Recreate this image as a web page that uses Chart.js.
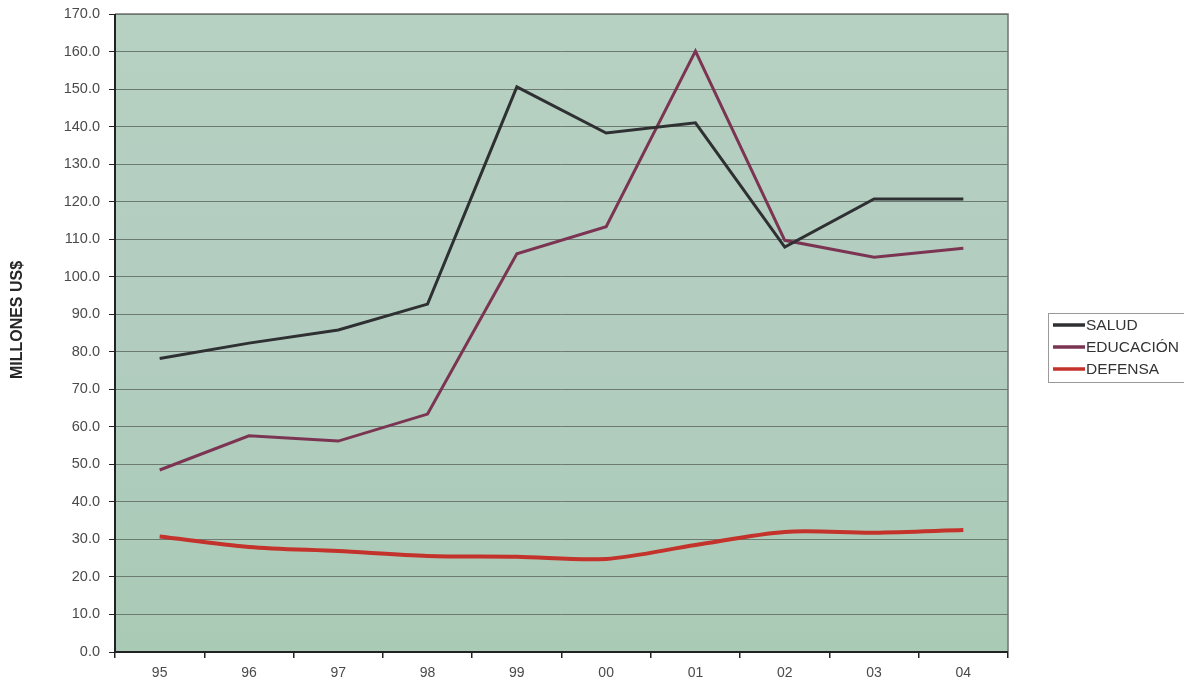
<!DOCTYPE html>
<html>
<head>
<meta charset="utf-8">
<script src="https://cdn.jsdelivr.net/npm/chart.js@4/dist/chart.umd.min.js"></script>
<style>
  html, body { margin: 0; padding: 0; background: #ffffff; }
  #wrap { width: 1184px; height: 683px; position: relative; }
</style>
</head>
<body>
<div id="wrap"><canvas id="c" width="1184" height="683"></canvas></div>
<script>
const categories = ['95', '96', '97', '98', '99', '00', '01', '02', '03', '04'];
const salud      = [78.2, 82.3, 85.8, 92.7, 150.6, 138.3, 141.0, 107.9, 120.7, 120.7];
const educacion  = [48.5, 57.6, 56.2, 63.4, 106.1, 113.3, 160.1, 109.7, 105.2, 107.6];
const defensa    = [30.8, 28.0, 26.9, 25.6, 25.4, 24.8, 28.5, 32.0, 31.8, 32.5];
const seriesLabels = ['SALUD', 'EDUCACIÓN', 'DEFENSA'];
const seriesColors = ['#2e3032', '#7b3552', '#c3322b'];
const yTitle = 'MILLONES US$';
const FONT = '"Liberation Sans", Arial, sans-serif';

const plotBg = {
  id: 'plotBg',
  beforeDraw(chart) {
    const {ctx, chartArea: a} = chart;
    ctx.save();
    const g = ctx.createLinearGradient(0, a.top, 0, a.bottom);
    g.addColorStop(0, '#b6d0c1');
    g.addColorStop(0.5, '#b2cdc0');
    g.addColorStop(1, '#a9cab5');
    ctx.fillStyle = g;
    ctx.fillRect(a.left, a.top, a.right - a.left, a.bottom - a.top);
    ctx.restore();
  },
  afterDatasetsDraw(chart) {
    const {ctx, chartArea: a} = chart;
    ctx.save();
    ctx.strokeStyle = '#6f7471';
    ctx.lineWidth = 1.5;
    ctx.beginPath();
    ctx.moveTo(a.left, a.top); ctx.lineTo(a.right, a.top); ctx.lineTo(a.right, a.bottom);
    ctx.stroke();
    ctx.strokeStyle = '#222';
    ctx.lineWidth = 2;
    ctx.beginPath();
    ctx.moveTo(a.left, a.top); ctx.lineTo(a.left, a.bottom); ctx.lineTo(a.right, a.bottom);
    ctx.stroke();
    ctx.restore();
  }
};

const sideText = {
  id: 'sideText',
  afterDraw(chart) {
    const ctx = chart.ctx;
    ctx.save();
    ctx.translate(18, 320);
    ctx.rotate(-Math.PI / 2);
    ctx.font = 'bold 16px ' + FONT;
    ctx.fillStyle = '#262626';
    ctx.textAlign = 'center';
    ctx.textBaseline = 'middle';
    ctx.fillText(yTitle, 0, 0);
    ctx.restore();

    const x0 = 1048, y0 = 313, w = 140, h = 69;
    ctx.save();
    ctx.fillStyle = '#ffffff';
    ctx.fillRect(x0, y0, w, h);
    ctx.strokeStyle = '#9a9a9a';
    ctx.lineWidth = 1;
    ctx.strokeRect(x0 + 0.5, y0 + 0.5, w, h);
    ctx.font = '15.5px ' + FONT;
    ctx.textBaseline = 'middle';
    chart.data.datasets.forEach((ds, i) => {
      const y = y0 + 12 + i * 22;
      ctx.strokeStyle = ds.borderColor;
      ctx.lineWidth = 3.5;
      ctx.beginPath();
      ctx.moveTo(x0 + 5, y); ctx.lineTo(x0 + 37, y);
      ctx.stroke();
      ctx.fillStyle = '#333';
      ctx.fillText(ds.label, x0 + 38, y + 1);
    });
    ctx.restore();
  }
};

new Chart(document.getElementById('c'), {
  type: 'line',
  data: {
    labels: categories,
    datasets: [
      { label: seriesLabels[0], data: salud, borderColor: seriesColors[0], borderWidth: 3, pointRadius: 0, tension: 0 },
      { label: seriesLabels[1], data: educacion, borderColor: seriesColors[1], borderWidth: 3, pointRadius: 0, tension: 0 },
      { label: seriesLabels[2], data: defensa, borderColor: seriesColors[2], borderWidth: 4, pointRadius: 0, tension: 0.3 }
    ]
  },
  options: {
    responsive: false,
    animation: false,
    layout: { padding: { left: 0, right: 176, top: 14, bottom: 0 } },
    plugins: { legend: { display: false }, tooltip: { enabled: false } },
    scales: {
      x: {
        offset: true,
        grid: { offset: true, drawOnChartArea: false, drawTicks: true, tickLength: 6, color: '#222', lineWidth: 1.5 },
        border: { display: false },
        ticks: { color: '#4a4a4a', font: { family: FONT, size: 14 }, padding: 7, maxRotation: 0 },
        afterFit(s) { s.height = 31; s.paddingLeft = 0; s.paddingRight = 0; }
      },
      y: {
        min: 0, max: 170,
        ticks: { stepSize: 10, color: '#4a4a4a', font: { family: FONT, size: 14.5 }, padding: 9,
                 callback: v => v.toFixed(1) },
        grid: { color: '#6d7a72', lineWidth: 1, tickLength: 6, tickColor: '#222' },
        border: { display: false },
        title: { display: false },
        afterFit(s) { s.width = 115; s.paddingTop = 0; s.paddingBottom = 0; }
      }
    }
  },
  plugins: [plotBg, sideText]
});
</script>
</body>
</html>
